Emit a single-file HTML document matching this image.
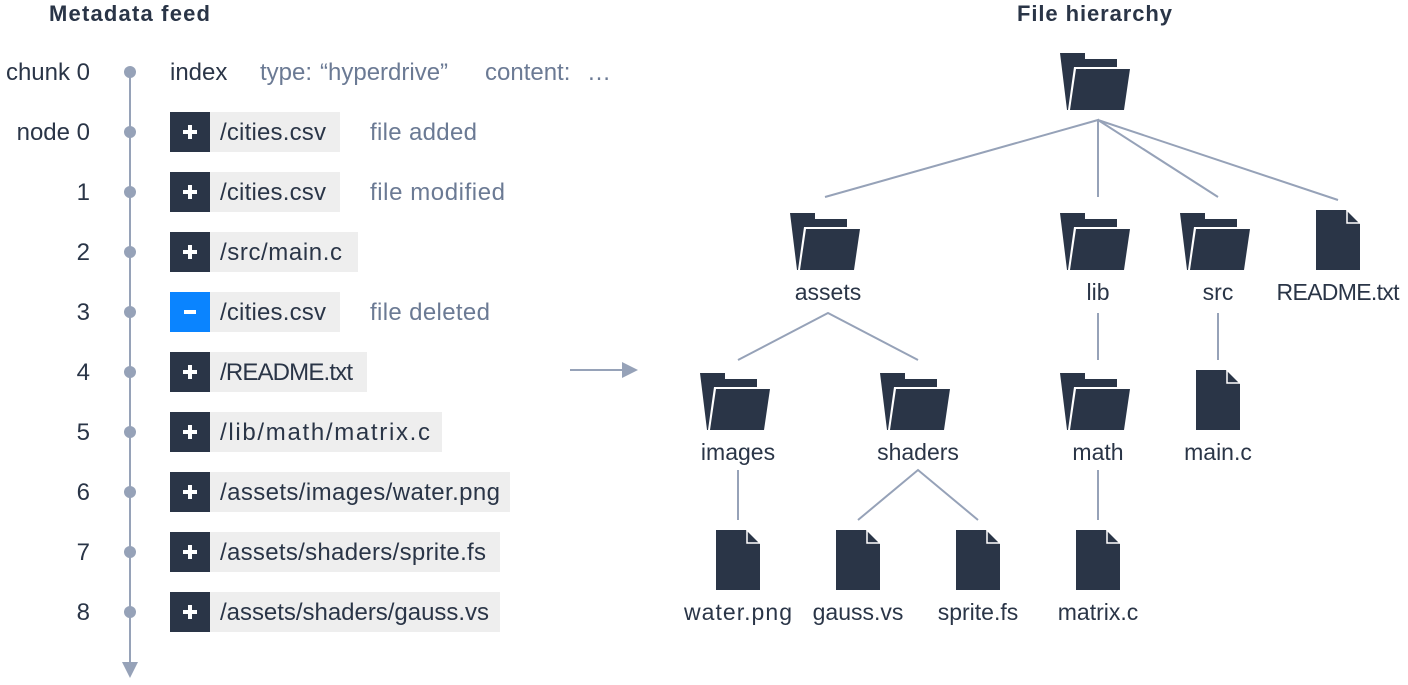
<!DOCTYPE html>
<html><head><meta charset="utf-8"><style>
body{margin:0;background:#fff;width:1408px;height:680px;overflow:hidden}
svg text{font-family:"Liberation Sans",sans-serif}
</style></head><body>
<svg width="1408" height="680" viewBox="0 0 1408 680" xmlns="http://www.w3.org/2000/svg">
<defs>
<g id="fo">
<polygon points="0,0 25,0 25,6 57,6 57,14 14,14 8,57 7,57" fill="#2a3547"/>
<polygon points="16,16 70,16 64,57 10,57" fill="#2a3547"/>
</g>
<g id="fi">
<polygon points="0,0 30,0 44,14 44,60 0,60" fill="#2a3547"/>
<polyline points="31,0 31,13 44,13" fill="none" stroke="#fff" stroke-width="1.5"/>
</g>
</defs>
<g fill="#2a3547" font-weight="bold" font-size="22">
<text x="49" y="21" textLength="161">Metadata feed</text>
<text x="1017" y="21" textLength="155">File hierarchy</text>
</g>
<line x1="130" y1="72" x2="130" y2="664" stroke="#96a2b8" stroke-width="2"/>
<polygon points="122,662 138,662 130,678" fill="#96a2b8"/>
<g fill="#96a2b8">
<circle cx="130" cy="72" r="6"/><circle cx="130" cy="132" r="6"/><circle cx="130" cy="192" r="6"/><circle cx="130" cy="252" r="6"/><circle cx="130" cy="312" r="6"/><circle cx="130" cy="372" r="6"/><circle cx="130" cy="432" r="6"/><circle cx="130" cy="492" r="6"/><circle cx="130" cy="552" r="6"/><circle cx="130" cy="612" r="6"/>
</g>
<g font-size="24" fill="#2a3547" text-anchor="end">
<text x="90" y="80">chunk 0</text><text x="90" y="140">node 0</text><text x="90" y="200">1</text><text x="90" y="260">2</text><text x="90" y="320">3</text><text x="90" y="380">4</text><text x="90" y="440">5</text><text x="90" y="500">6</text><text x="90" y="560">7</text><text x="90" y="620">8</text>
</g>
<text x="170" y="80" font-size="24" fill="#2a3547">index</text>
<g font-size="24" fill="#6b7a94">
<text x="260" y="80">type:</text><text x="320" y="80">“hyperdrive”</text><text x="485" y="80">content:</text><text x="587" y="80">…</text>
</g>
<g fill="#eeeeee">
<rect x="210" y="112" width="130" height="40"/><rect x="210" y="172" width="130" height="40"/><rect x="210" y="232" width="148" height="40"/><rect x="210" y="292" width="130" height="40"/><rect x="210" y="352" width="157" height="40"/><rect x="210" y="412" width="232" height="40"/><rect x="210" y="472" width="300" height="40"/><rect x="210" y="532" width="290" height="40"/><rect x="210" y="592" width="290" height="40"/>
</g>
<g fill="#2a3547">
<rect x="170" y="112" width="40" height="40"/><rect x="170" y="172" width="40" height="40"/><rect x="170" y="232" width="40" height="40"/><rect x="170" y="292" width="40" height="40" fill="#0a84ff"/><rect x="170" y="352" width="40" height="40"/><rect x="170" y="412" width="40" height="40"/><rect x="170" y="472" width="40" height="40"/><rect x="170" y="532" width="40" height="40"/><rect x="170" y="592" width="40" height="40"/>
</g>
<g fill="#fff">
<rect x="183" y="130" width="14" height="4"/><rect x="188" y="125" width="4" height="14"/>
<rect x="183" y="190" width="14" height="4"/><rect x="188" y="185" width="4" height="14"/>
<rect x="183" y="250" width="14" height="4"/><rect x="188" y="245" width="4" height="14"/>
<rect x="184" y="310" width="12" height="4"/>
<rect x="183" y="370" width="14" height="4"/><rect x="188" y="365" width="4" height="14"/>
<rect x="183" y="430" width="14" height="4"/><rect x="188" y="425" width="4" height="14"/>
<rect x="183" y="490" width="14" height="4"/><rect x="188" y="485" width="4" height="14"/>
<rect x="183" y="550" width="14" height="4"/><rect x="188" y="545" width="4" height="14"/>
<rect x="183" y="610" width="14" height="4"/><rect x="188" y="605" width="4" height="14"/>
</g>
<g font-size="24" fill="#2a3547">
<text x="220" y="140" textLength="106">/cities.csv</text><text x="220" y="200" textLength="106">/cities.csv</text><text x="220" y="260" textLength="122">/src/main.c</text><text x="220" y="320" textLength="106">/cities.csv</text><text x="220" y="380" textLength="133">/README.txt</text><text x="220" y="440" textLength="210">/lib/math/matrix.c</text><text x="220" y="500" textLength="280">/assets/images/water.png</text><text x="220" y="560" textLength="266">/assets/shaders/sprite.fs</text><text x="220" y="620" textLength="269">/assets/shaders/gauss.vs</text>
</g>
<g font-size="24" fill="#6b7a94">
<text x="370" y="140" textLength="107">file added</text><text x="370" y="200" textLength="135">file modified</text><text x="370" y="320" textLength="120">file deleted</text>
</g>
<line x1="570" y1="370" x2="626" y2="370" stroke="#96a2b8" stroke-width="2"/>
<polygon points="622,362 638,370 622,378" fill="#96a2b8"/>
<g stroke="#96a2b8" stroke-width="2" fill="none">
<polyline points="825,197 1098,120 1098,197"/>
<line x1="1098" y1="120" x2="1218" y2="197"/><line x1="1098" y1="120" x2="1338" y2="200"/>
<polyline points="738,360 828,313 918,360"/>
<line x1="1098" y1="313" x2="1098" y2="360"/><line x1="1218" y1="313" x2="1218" y2="360"/>
<line x1="738" y1="470" x2="738" y2="520"/>
<polyline points="858,520 918,470 978,520"/>
<line x1="1098" y1="470" x2="1098" y2="520"/>
</g>
<use href="#fo" x="1060" y="53"/>
<use href="#fo" x="790" y="213"/><use href="#fo" x="1060" y="213"/><use href="#fo" x="1180" y="213"/>
<use href="#fi" x="1316" y="210"/>
<use href="#fo" x="700" y="373"/><use href="#fo" x="880" y="373"/><use href="#fo" x="1060" y="373"/>
<use href="#fi" x="1196" y="370"/>
<use href="#fi" x="716" y="530"/><use href="#fi" x="836" y="530"/><use href="#fi" x="956" y="530"/><use href="#fi" x="1076" y="530"/>
<g font-size="23" fill="#2a3547" text-anchor="middle">
<text x="828" y="300">assets</text><text x="1098" y="300">lib</text><text x="1218" y="300">src</text><text x="1338" y="300" textLength="123">README.txt</text>
<text x="738" y="460">images</text><text x="918" y="460">shaders</text><text x="1098" y="460">math</text><text x="1218" y="460">main.c</text>
<text x="738" y="620" textLength="108">water.png</text><text x="858" y="620">gauss.vs</text><text x="978" y="620">sprite.fs</text><text x="1098" y="620">matrix.c</text>
</g>
</svg>
</body></html>
